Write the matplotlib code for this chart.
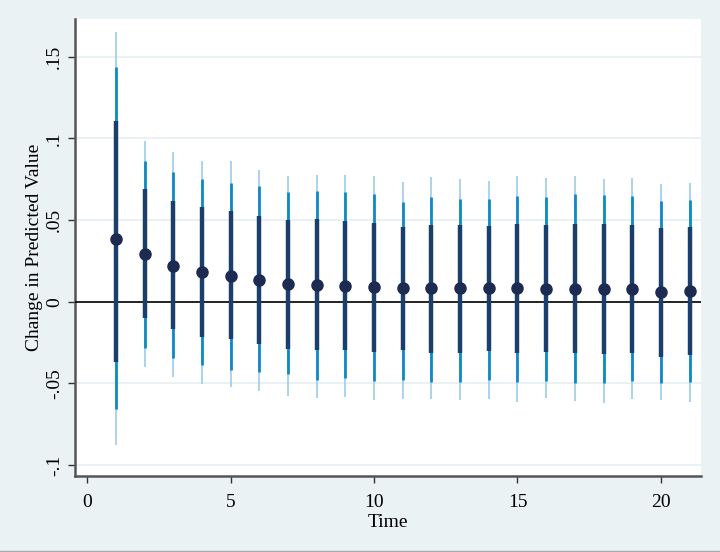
import numpy as np
import matplotlib.pyplot as plt

# Estimates
time = [1, 2, 3, 4, 5, 6, 7, 8, 9, 10, 11, 12, 13, 14, 15, 16, 17, 18, 19, 20, 21]
estimate = [0.0384, 0.0290, 0.0220, 0.0182, 0.0159, 0.0133, 0.0106, 0.0100, 0.0096, 0.0088,
            0.0082, 0.0082, 0.0082, 0.0082, 0.0082, 0.0080, 0.0080, 0.0080, 0.0080, 0.0061, 0.0065]

# innermost interval (dark)
ci_in_lo = [-0.0367, -0.0102, -0.0169, -0.0214, -0.0227, -0.0259, -0.0288, -0.0296, -0.0296, -0.0310,
            -0.0296, -0.0314, -0.0316, -0.0302, -0.0312, -0.0308, -0.0312, -0.0322, -0.0316, -0.0337, -0.0327]
ci_in_hi = [0.1106, 0.0688, 0.0616, 0.0580, 0.0555, 0.0522, 0.0500, 0.0504, 0.0494, 0.0482,
            0.0459, 0.0467, 0.0467, 0.0461, 0.0476, 0.0469, 0.0476, 0.0476, 0.0469, 0.0451, 0.0459]

# middle interval (medium blue)
ci_mid_lo = [-0.0659, -0.0284, -0.0343, -0.0388, -0.0416, -0.0429, -0.0445, -0.0478, -0.0469, -0.0486,
             -0.0482, -0.0492, -0.0492, -0.0480, -0.0490, -0.0484, -0.0496, -0.0496, -0.0486, -0.0498, -0.0492]
ci_mid_hi = [0.1439, 0.0863, 0.0794, 0.0749, 0.0724, 0.0706, 0.0669, 0.0676, 0.0669, 0.0659,
             0.0612, 0.0639, 0.0627, 0.0627, 0.0649, 0.0643, 0.0659, 0.0653, 0.0645, 0.0614, 0.0620]

# outer interval (light blue)
ci_out_lo = [-0.0878, -0.0398, -0.0463, -0.0502, -0.0520, -0.0545, -0.0576, -0.0588, -0.0582, -0.0602,
             -0.0598, -0.0594, -0.0600, -0.0594, -0.0614, -0.0588, -0.0610, -0.0622, -0.0598, -0.0602, -0.0614]
ci_out_hi = [0.1653, 0.0982, 0.0914, 0.0861, 0.0859, 0.0808, 0.0767, 0.0778, 0.0778, 0.0767,
             0.0731, 0.0761, 0.0749, 0.0739, 0.0771, 0.0757, 0.0769, 0.0749, 0.0759, 0.0720, 0.0724]

yticks = [-0.1, -0.05, 0, 0.05, 0.1, 0.15]
ytick_labels = ['-.1', '-.05', '0', '.05', '.1', '.15']
xticks = [0, 5, 10, 15, 20]

bg = '#EAF2F3'
plt.rcParams['font.family'] = ['Liberation Serif', 'DejaVu Serif']

fig = plt.figure(figsize=(7.2, 5.52), dpi=100, facecolor=bg)
ax = fig.add_axes([75 / 720, 1 - 476 / 552, (701 - 75) / 720, (476 - 19) / 552])
ax.set_facecolor('white')

# grid lines
for t in yticks:
    ax.axhline(t, color='#E6EFF2', lw=1.2, zorder=0)

ax.vlines(time, ci_out_lo, ci_out_hi, color='#A5CFEC', lw=1.3, zorder=2)
ax.vlines(time, ci_mid_lo, ci_mid_hi, color='#0E8AC2', lw=2.0, zorder=3)
ax.vlines(time, ci_in_lo, ci_in_hi, color='#1B3F6A', lw=3.2, zorder=4)
ax.axhline(0, color='black', lw=1.2, zorder=3.5)
ax.plot(time, estimate, 'o', color='#1D2A52', markersize=8, zorder=5)

ax.set_xlim(-0.43, 21.4)
ax.set_ylim(-0.1067, 0.173)
ax.set_xticks(xticks)
ax.set_yticks(yticks)
ax.set_yticklabels(ytick_labels, rotation=90, va='center')
ax.tick_params(axis='both', labelsize=14, length=5, width=1, color='#333333')
ax.tick_params(axis='x', pad=8)

for side in ['top', 'right']:
    ax.spines[side].set_visible(False)
for side in ['left', 'bottom']:
    ax.spines[side].set_color('#555555')
    ax.spines[side].set_linewidth(1.8)

ax.set_xlabel('Time', fontsize=14, labelpad=2)
ax.set_ylabel('Change in Predicted Value', fontsize=14, labelpad=2)

# thin border at the bottom of the figure
fig.add_artist(plt.Line2D([0, 1], [0.001, 0.001], color='#AAAAAA', lw=1))

fig.savefig('out.png', dpi=100, facecolor=bg)
